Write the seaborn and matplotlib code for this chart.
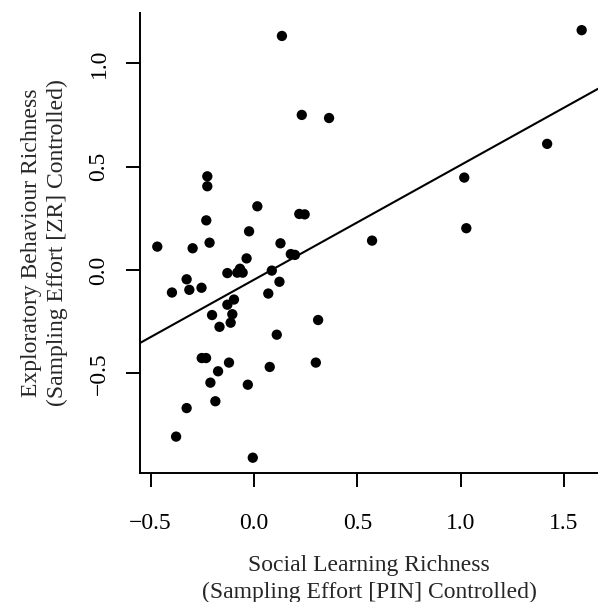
import matplotlib
matplotlib.use("Agg")
import matplotlib.pyplot as plt
import seaborn as sns
import numpy as np
import pandas as pd

# Social learning richness (x) and exploratory behaviour richness (y)
social_learning = [
    -0.226, -0.226, -0.231, 0.016, 0.219, 0.245, -0.468, -0.297, -0.215, -0.024,
    0.128, 0.178, 0.198, -0.036, -0.129, -0.068, -0.081, -0.055, 0.086, -0.326,
    -0.397, -0.313, -0.254, 0.069, 0.123, -0.097, -0.129, -0.203, -0.105, -0.113,
    -0.167, 0.310, 0.110, -0.253, -0.232, -0.121, -0.174, 0.076, 0.299, -0.211,
    -0.030, -0.326, -0.187, -0.377, -0.006, 0.135, 0.231, 0.363, 1.585, 1.418,
    1.017, 1.027, 0.571,
]
exploratory = [
    0.453, 0.405, 0.240, 0.308, 0.271, 0.269, 0.113, 0.105, 0.132, 0.187,
    0.129, 0.077, 0.073, 0.056, -0.015, 0.006, -0.013, -0.013, -0.003, -0.045,
    -0.109, -0.096, -0.086, -0.114, -0.057, -0.143, -0.168, -0.218, -0.214, -0.255,
    -0.275, -0.242, -0.313, -0.426, -0.426, -0.448, -0.490, -0.469, -0.448, -0.545,
    -0.555, -0.668, -0.635, -0.806, -0.908, 1.132, 0.750, 0.735, 1.160, 0.610,
    0.447, 0.202, 0.142,
]
x_ticks = [-0.5, 0.0, 0.5, 1.0, 1.5]
y_ticks = [-0.5, 0.0, 0.5, 1.0]

df = pd.DataFrame({"social": social_learning, "explore": exploratory})

sns.set_style("ticks")
plt.rcParams["font.family"] = ["Liberation Serif", "DejaVu Serif"]
plt.rcParams["axes.unicode_minus"] = True

fig = plt.figure(figsize=(5.98, 6.02), dpi=100)
ax = fig.add_axes([140 / 598, 129 / 602, 458 / 598, 460 / 602])

xlim = (-0.5516, 1.664)
ylim = (-0.982, 1.243)
ax.set_xlim(xlim)
ax.set_ylim(ylim)

sns.regplot(
    data=df, x="social", y="explore", ax=ax, ci=None, truncate=False,
    scatter_kws=dict(s=55, color="black", edgecolor="none", alpha=1),
    line_kws=dict(color="black", lw=1.5),
)
ax.set_xlim(xlim)
ax.set_ylim(ylim)

ax.set_xticks(x_ticks)
ax.set_xticklabels([f"{v:.1f}".replace("-", "\u2212") for v in x_ticks])
ax.set_yticks(y_ticks)
ax.set_yticklabels([f"{v:.1f}".replace("-", "\u2212") for v in y_ticks],
                   rotation=90, va="center")

for side in ["top", "right"]:
    ax.spines[side].set_visible(False)
for side in ["left", "bottom"]:
    ax.spines[side].set_linewidth(1.4)
    ax.spines[side].set_color("black")

ax.tick_params(axis="both", direction="out", length=10, width=1.4,
               colors="black", labelsize=17)
ax.tick_params(axis="x", pad=19)
ax.tick_params(axis="y", pad=12)

ax.set_xlabel("Social Learning Richness\n(Sampling Effort [PIN] Controlled)",
              fontsize=17, linespacing=1.35)
ax.set_ylabel("Exploratory Behaviour Richness\n(Sampling Effort [ZR] Controlled)",
              fontsize=17, linespacing=1.3)
ax.xaxis.set_label_coords(0.5, -0.178)
ax.yaxis.set_label_coords(-0.158, 0.5)

fig.savefig("out.png", dpi=100)
